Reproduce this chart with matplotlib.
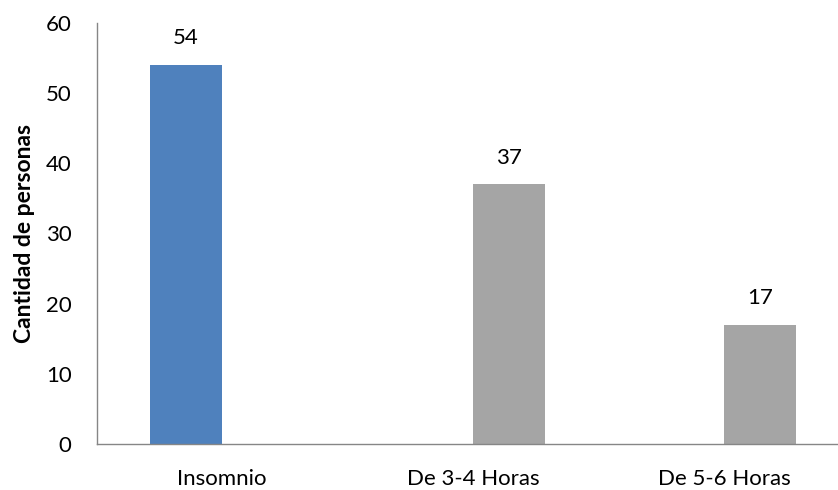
import numpy as np
import matplotlib.pyplot as plt

categorias = ['Insomnio', 'De 3-4 Horas', 'De 5-6 Horas']
serie_azul = [54, 0, 0]
serie_gris = [0, 37, 17]
etiquetas_azul = ['54', '', '']
etiquetas_gris = ['', '37', '17']

plt.rcParams['font.family'] = ['Lato', 'DejaVu Sans']

fig = plt.figure(figsize=(8.38, 4.90), dpi=100)
ax = fig.add_axes([0.1152, 0.0939, 0.8986, 0.8592])

x = np.arange(len(categorias))
w = 0.287
b1 = ax.bar(x - w / 2, serie_azul, w, color='#4F81BD')
b2 = ax.bar(x + w / 2, serie_gris, w, color='#A5A5A5')

ax.bar_label(b1, labels=etiquetas_azul, padding=12, fontsize=16)
ax.bar_label(b2, labels=etiquetas_gris, padding=12, fontsize=16)

ax.set_xlim(-0.5, 2.5)
ax.set_ylim(0, 60)
ax.set_yticks(range(0, 61, 10))
ax.set_xticks(x)
ax.set_xticklabels(categorias)
ax.tick_params(axis='both', length=0, labelsize=16)
ax.tick_params(axis='y', pad=18)
ax.tick_params(axis='x', pad=18)

ax.set_ylabel('Cantidad de personas', fontsize=16.5, fontweight='bold', labelpad=8)

for s in ['top', 'right']:
    ax.spines[s].set_visible(False)
for s in ['left', 'bottom']:
    ax.spines[s].set_color('#868686')
    ax.spines[s].set_linewidth(1.0)

plt.savefig('out.png', dpi=100)
